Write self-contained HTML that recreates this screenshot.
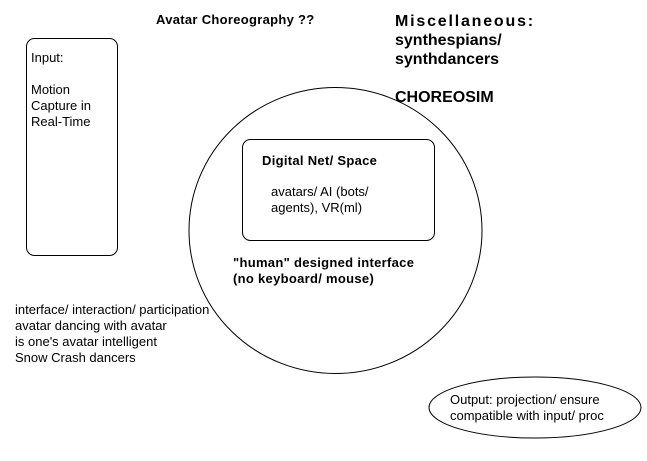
<!DOCTYPE html>
<html><head><style>
body{margin:0;width:647px;height:461px;background:#fff;position:relative;overflow:hidden;font-family:"Liberation Sans",Arial,sans-serif;color:#000}
.t{position:absolute;font-size:13px;line-height:16px;white-space:nowrap}
.b{font-weight:bold;letter-spacing:0.3px}
</style></head><body>
<svg width="647" height="461" style="position:absolute;left:0;top:0">
<ellipse cx="335.5" cy="230.5" rx="146.5" ry="143" fill="none" stroke="#000"/>
<rect x="26.5" y="38.5" width="91" height="217" rx="8" fill="none" stroke="#000"/>
<rect x="242.5" y="139.5" width="192" height="101" rx="8" fill="#fff" stroke="#000"/>
<ellipse cx="535" cy="407.5" rx="106" ry="30.5" fill="#fff" stroke="#000"/>
</svg>
<div class="t b" style="left:156px;top:12px">Avatar Choreography ??</div>
<div class="t b" style="left:395px;top:12px;font-size:16px;line-height:19px;letter-spacing:0"><span style="letter-spacing:1.8px">Miscellaneous:</span><br>synthespians/<br>synthdancers</div>
<div class="t b" style="left:395px;top:88px;font-size:16px;line-height:19px;letter-spacing:0">CHOREOSIM</div>
<div class="t" style="left:31px;top:50px">Input:<br><br>Motion<br>Capture in<br>Real-Time</div>
<div class="t b" style="left:262px;top:153px">Digital Net/ Space</div>
<div class="t" style="left:271px;top:184px">avatars/ AI (bots/<br>agents), VR(ml)</div>
<div class="t b" style="left:233px;top:255px">"human" designed interface<br>(no keyboard/ mouse)</div>
<div class="t" style="left:15px;top:302px">interface/ interaction/ participation<br>avatar dancing with avatar<br>is one's avatar intelligent<br>Snow Crash dancers</div>
<div class="t" style="left:450px;top:392px">Output: projection/ ensure<br>compatible with input/ proc</div>
</body></html>
